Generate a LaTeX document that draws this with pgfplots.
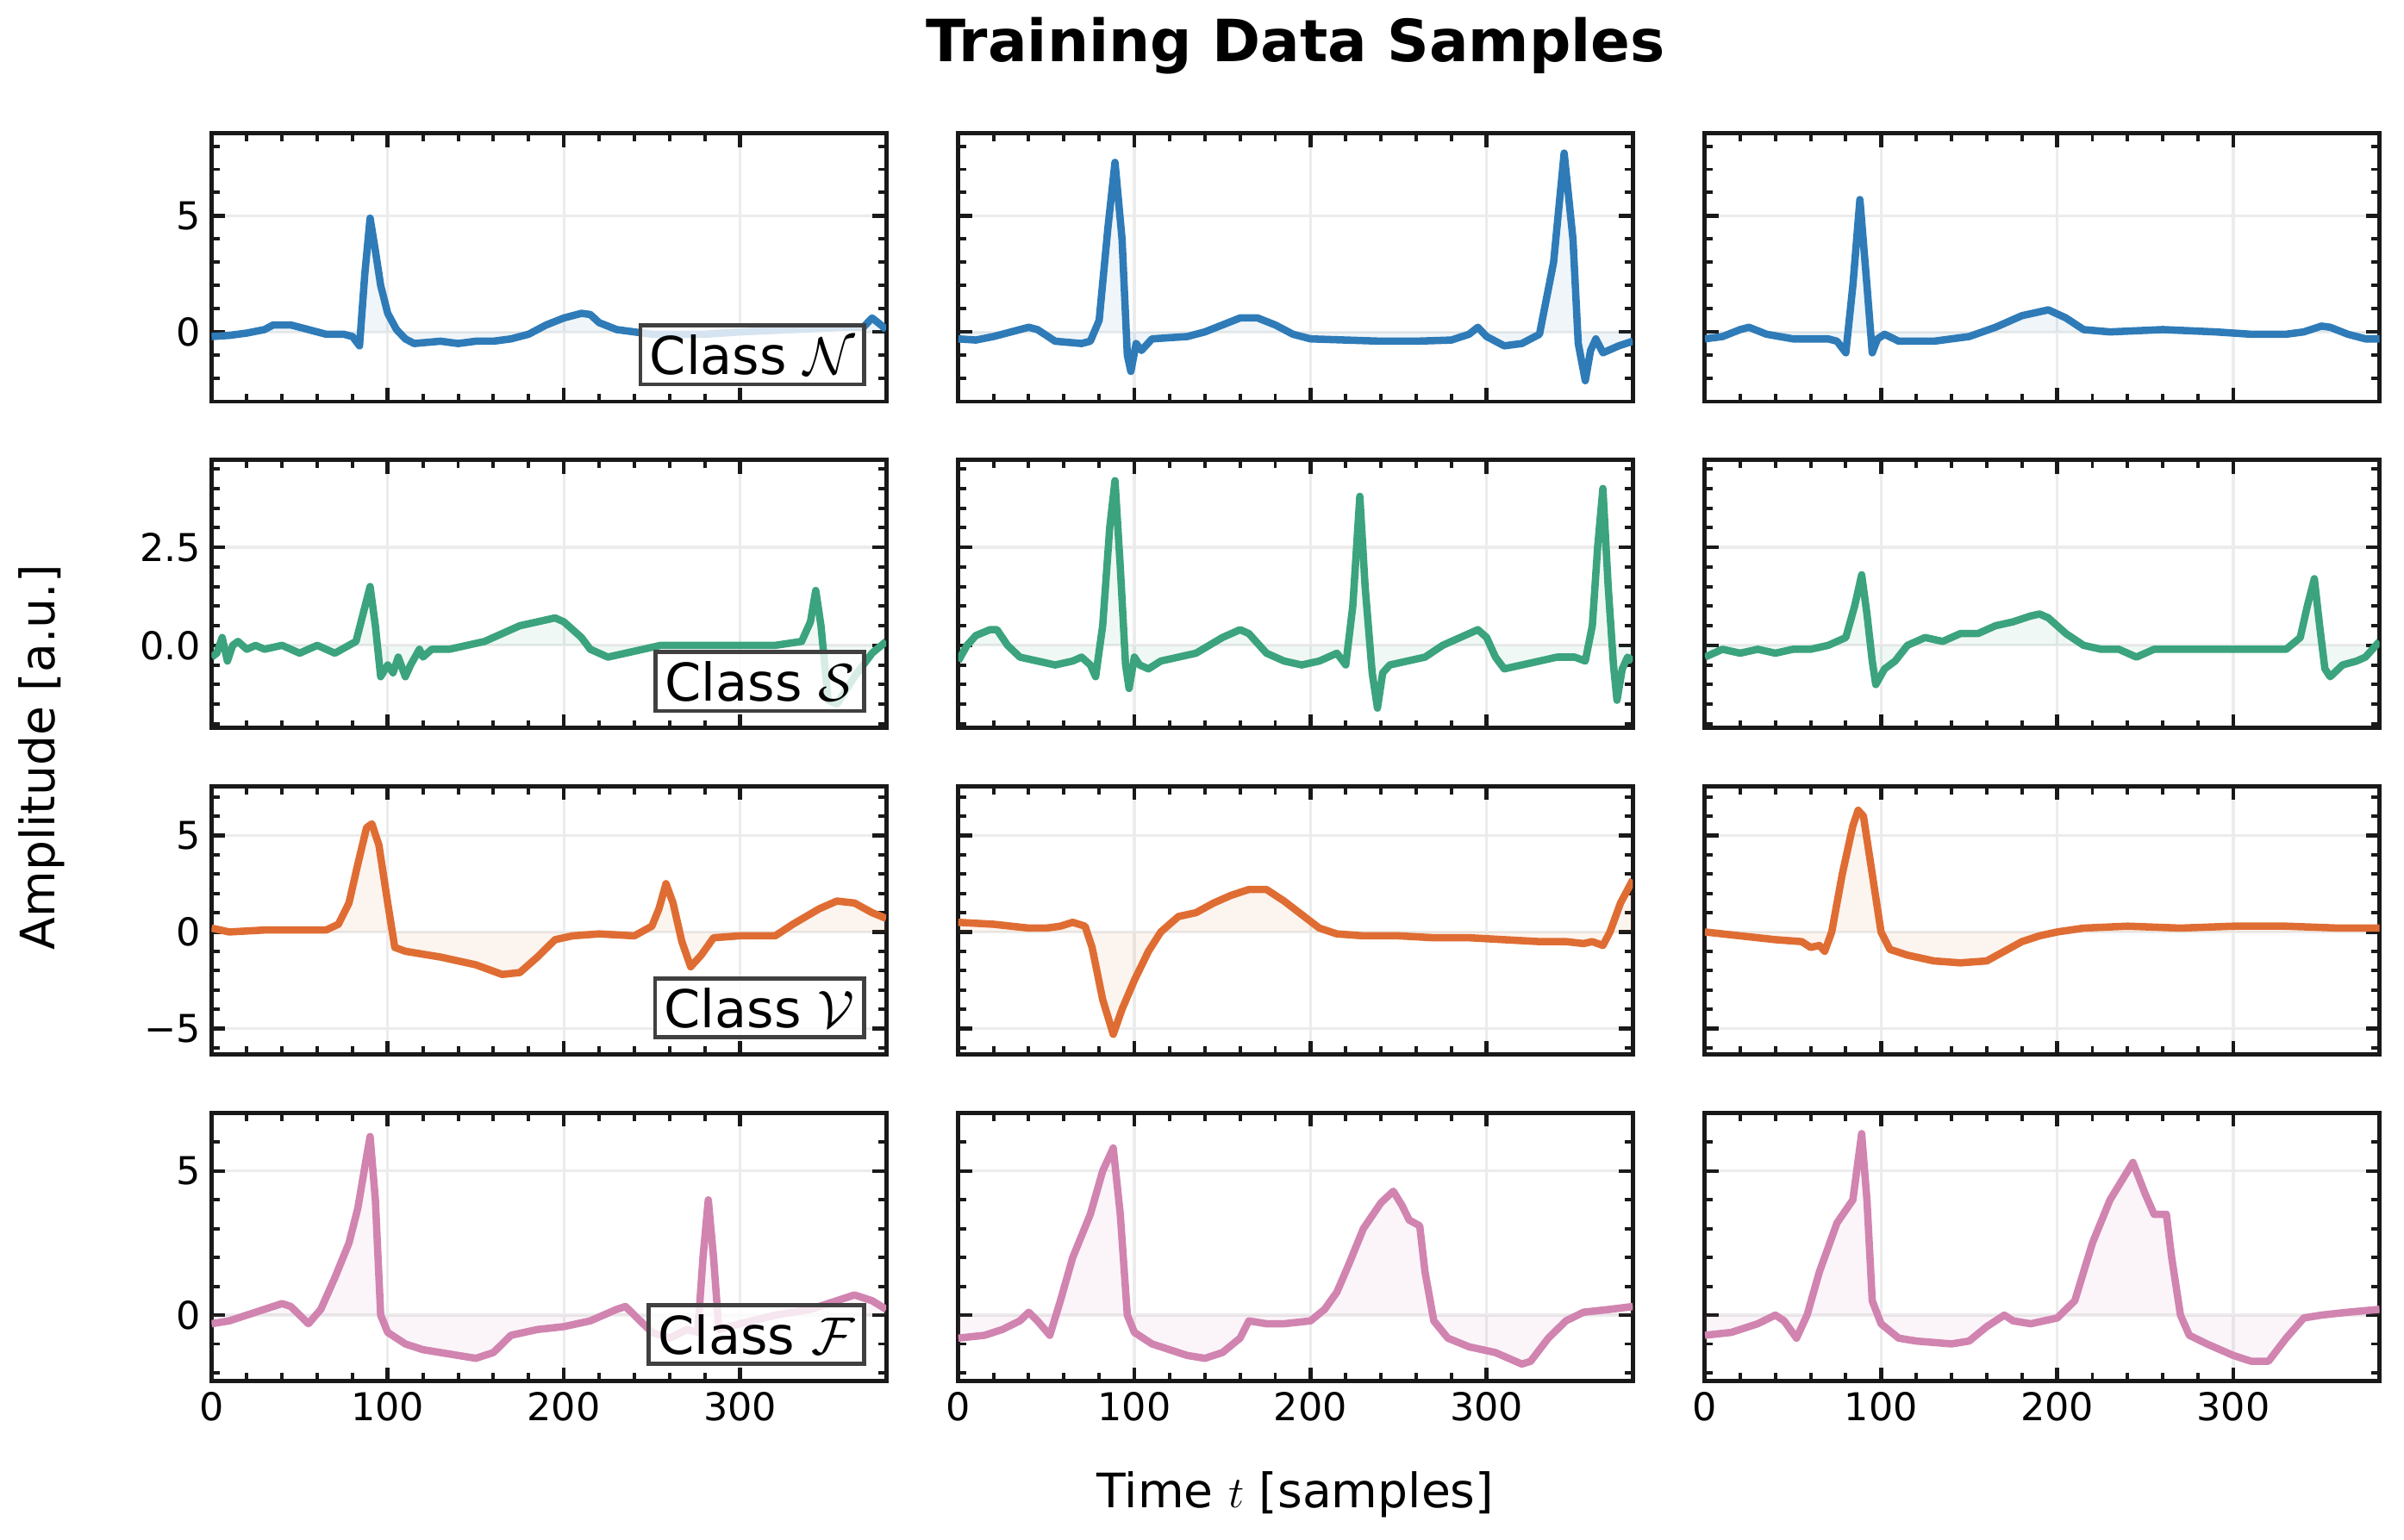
\documentclass[border=0pt]{standalone}
\usepackage{pgfplots}
\pgfplotsset{compat=1.18}
\usepgfplotslibrary{groupplots}
\usepackage{fontspec}
\setmainfont{DejaVu Sans}
\definecolor{cN}{HTML}{2E7BB8}
\definecolor{cS}{HTML}{3BA37D}
\definecolor{cV}{HTML}{DF6D33}
\definecolor{cF}{HTML}{D184B0}
\newcommand\panel[2]{%
  \addplot[fill=#1, fill opacity=0.08, draw=none] coordinates {#2} \closedcycle;
  \addplot[#1, line width=2.4pt, line join=round] coordinates {#2};}
\newcommand\cls[1]{\node[draw=black!75, line width=1.3pt, fill=white, fill opacity=0.8, text opacity=1, anchor=south east, font=\fontsize{17}{20}\selectfont, inner sep=3pt] at (rel axis cs:0.97,0.057) {Class $#1$};}
\begin{document}
\begin{tikzpicture}
\begin{groupplot}[
  group style={group size=3 by 4, horizontal sep=23.5pt, vertical sep=19pt,
    xticklabels at=edge bottom, yticklabels at=edge left},
  scale only axis, width=220pt, height=87.5pt,
  xmin=0, xmax=383, xtick={0,100,200,300}, minor x tick num=4,
  tick align=inside, ticks=both, xtick pos=both, ytick pos=both,
  major tick length=4.5pt, minor tick length=2.6pt,
  every tick/.style={line width=1.3pt, black!90},
  minor tick style={line width=1.1pt, black!90},
  axis line style={line width=1.4pt, black!90},
  grid=major, major grid style={line width=0.9pt, gray!15},
  tick label style={font=\fontsize{12.5}{14}\selectfont},
  /pgf/number format/assume math mode=true,
  clip=true,
]
% ---------- Row 1 ----------
\nextgroupplot[ymin=-3, ymax=8.55, ytick={0,5}, minor ytick={-3,...,8}]
\panel{cN}{(0,-0.2)(10,-0.15)(20,-0.05)(30,0.1)(35,0.3)(45,0.3)(55,0.1)(65,-0.1)(75,-0.1)(80,-0.2)(84,-0.6)(87,2.5)(90,4.9)(93,3.5)(96,2.0)(100,0.8)(105,0.1)(110,-0.3)(115,-0.5)(130,-0.4)(140,-0.5)(150,-0.4)(160,-0.4)(170,-0.3)(180,-0.1)(190,0.3)(200,0.6)(210,0.8)(215,0.75)(220,0.4)(230,0.1)(240,0.0)(250,-0.1)(260,-0.1)(280,-0.1)(300,0.0)(330,0.1)(360,0.2)(370,0.2)(375,0.6)(380,0.3)(383,0.1)}
\cls{\mathcal{N}}
\nextgroupplot[ymin=-3, ymax=8.55, ytick={0,5}, minor ytick={-3,...,8}]
\panel{cN}{(0,-0.3)(10,-0.35)(20,-0.2)(30,0.0)(40,0.2)(45,0.1)(55,-0.4)(70,-0.5)(75,-0.4)(80,0.5)(85,4.5)(89,7.3)(93,4.0)(96,-1.0)(98,-1.7)(101,-0.5)(104,-0.8)(110,-0.3)(130,-0.2)(140,0.0)(150,0.3)(160,0.6)(170,0.6)(180,0.3)(190,-0.1)(200,-0.3)(220,-0.35)(240,-0.4)(260,-0.4)(280,-0.35)(290,-0.1)(295,0.2)(300,-0.2)(310,-0.6)(320,-0.5)(330,-0.1)(338,3)(344,7.7)(349,4)(352,-0.5)(356,-2.1)(359,-0.8)(362,-0.3)(366,-0.9)(375,-0.6)(383,-0.4)}
\nextgroupplot[ymin=-3, ymax=8.55, ytick={0,5}, minor ytick={-3,...,8}]
\panel{cN}{(0,-0.3)(10,-0.2)(20,0.1)(25,0.2)(35,-0.1)(50,-0.3)(70,-0.3)(75,-0.4)(80,-0.9)(84,2)(88,5.7)(92,2)(95,-0.9)(98,-0.3)(102,-0.1)(110,-0.4)(130,-0.4)(150,-0.2)(165,0.2)(180,0.7)(195,0.95)(205,0.6)(215,0.1)(230,0.0)(260,0.1)(290,0.0)(310,-0.1)(330,-0.1)(340,0.0)(350,0.25)(355,0.2)(365,-0.1)(375,-0.3)(383,-0.3)}
% ---------- Row 2 ----------
\nextgroupplot[ymin=-2.11, ymax=4.73, ytick={0,2.5}, yticklabels={0.0,2.5}, minor ytick={-2,-1.5,...,4.5}]
\panel{cS}{(0,-0.3)(3,-0.2)(6,0.2)(9,-0.4)(12,0.0)(15,0.1)(20,-0.1)(25,0.0)(30,-0.1)(40,0.0)(50,-0.2)(60,0.0)(70,-0.2)(78,0.0)(82,0.1)(86,0.8)(90,1.5)(93,0.5)(96,-0.8)(100,-0.5)(103,-0.7)(106,-0.3)(110,-0.8)(113,-0.5)(118,-0.1)(120,-0.3)(125,-0.1)(135,-0.1)(145,0.0)(155,0.1)(165,0.3)(175,0.5)(185,0.6)(195,0.7)(200,0.6)(210,0.2)(215,-0.1)(225,-0.3)(235,-0.2)(245,-0.1)(255,0.0)(265,0.0)(280,0.0)(300,0.0)(320,0.0)(335,0.1)(340,0.6)(343,1.4)(346,0.5)(350,-1.4)(355,-1.5)(365,-0.8)(375,-0.2)(383,0.1)}
\cls{\mathcal{S}}
\nextgroupplot[ymin=-2.11, ymax=4.73, ytick={0,2.5}, yticklabels={}, minor ytick={-2,-1.5,...,4.5}]
\panel{cS}{(0,-0.4)(5,0.0)(10,0.25)(18,0.4)(22,0.4)(28,0.0)(35,-0.3)(45,-0.4)(55,-0.5)(65,-0.4)(70,-0.3)(75,-0.5)(78,-0.8)(82,0.5)(86,3)(89,4.2)(92,2)(95,-0.5)(97,-1.1)(100,-0.3)(103,-0.5)(108,-0.6)(115,-0.4)(125,-0.3)(135,-0.2)(150,0.2)(160,0.4)(165,0.3)(175,-0.2)(185,-0.4)(195,-0.5)(205,-0.4)(215,-0.2)(220,-0.5)(224,1)(228,3.8)(231,1.5)(235,-0.7)(238,-1.6)(241,-0.7)(245,-0.5)(255,-0.4)(265,-0.3)(275,0.0)(285,0.2)(295,0.4)(300,0.2)(305,-0.3)(310,-0.6)(320,-0.5)(330,-0.4)(340,-0.3)(350,-0.3)(356,-0.4)(360,0.5)(363,2.5)(366,4.0)(369,1.5)(372,-0.5)(374,-1.4)(377,-0.6)(380,-0.3)(383,-0.4)}
\nextgroupplot[ymin=-2.11, ymax=4.73, ytick={0,2.5}, yticklabels={}, minor ytick={-2,-1.5,...,4.5}]
\panel{cS}{(0,-0.3)(10,-0.1)(20,-0.2)(30,-0.1)(40,-0.2)(50,-0.1)(60,-0.1)(70,0.0)(80,0.2)(85,1.0)(89,1.8)(92,0.8)(95,-0.4)(97,-1.0)(102,-0.6)(108,-0.4)(115,0.0)(125,0.2)(135,0.1)(145,0.3)(155,0.3)(165,0.5)(175,0.6)(185,0.75)(190,0.8)(195,0.7)(205,0.3)(215,0.0)(225,-0.1)(235,-0.1)(245,-0.3)(255,-0.1)(270,-0.1)(290,-0.1)(310,-0.1)(330,-0.1)(338,0.2)(342,1.0)(346,1.7)(349,0.5)(352,-0.6)(355,-0.8)(362,-0.5)(370,-0.4)(375,-0.3)(383,0.1)}
% ---------- Row 3 ----------
\nextgroupplot[ymin=-6.35, ymax=7.54, ytick={-5,0,5}, yticklabels={−5,0,5}, minor ytick={-6,...,7}]
\panel{cV}{(0,0.2)(10,0.0)(30,0.1)(50,0.1)(65,0.1)(72,0.4)(78,1.5)(83,3.5)(88,5.4)(91,5.6)(95,4.5)(100,1.5)(104,-0.8)(110,-1.0)(130,-1.3)(150,-1.7)(165,-2.2)(175,-2.1)(185,-1.3)(195,-0.4)(205,-0.2)(220,-0.1)(240,-0.2)(250,0.3)(254,1.2)(258,2.5)(262,1.5)(267,-0.5)(272,-1.8)(278,-1.2)(285,-0.3)(300,-0.2)(320,-0.2)(330,0.4)(345,1.2)(355,1.6)(365,1.5)(375,1.0)(383,0.7)}
\cls{\mathcal{V}}
\nextgroupplot[ymin=-6.35, ymax=7.54, ytick={-5,0,5}, yticklabels={}, minor ytick={-6,...,7}]
\panel{cV}{(0,0.5)(20,0.4)(40,0.2)(50,0.2)(58,0.3)(65,0.5)(72,0.3)(76,-0.8)(82,-3.5)(88,-5.3)(93,-4.0)(100,-2.5)(108,-1.0)(115,0.0)(125,0.8)(135,1.0)(145,1.5)(155,1.9)(165,2.2)(175,2.2)(185,1.6)(195,0.9)(205,0.2)(215,-0.1)(230,-0.2)(250,-0.2)(270,-0.3)(290,-0.3)(310,-0.4)(330,-0.5)(345,-0.5)(355,-0.6)(360,-0.5)(366,-0.7)(370,0.0)(376,1.5)(383,2.7)}
\nextgroupplot[ymin=-6.35, ymax=7.54, ytick={-5,0,5}, yticklabels={}, minor ytick={-6,...,7}]
\panel{cV}{(0,0.0)(20,-0.2)(40,-0.4)(55,-0.5)(60,-0.8)(65,-0.7)(68,-1.0)(72,0.0)(78,3.0)(84,5.5)(87,6.3)(90,6.0)(95,3)(100,0.0)(105,-0.9)(115,-1.2)(130,-1.5)(145,-1.6)(160,-1.5)(170,-1.0)(180,-0.5)(190,-0.2)(200,0.0)(215,0.2)(240,0.3)(270,0.2)(300,0.3)(330,0.3)(360,0.2)(383,0.2)}
% ---------- Row 4 ----------
\nextgroupplot[ymin=-2.29, ymax=7.02, ytick={0,5}, minor ytick={-2,...,7}]
\panel{cF}{(0,-0.3)(10,-0.2)(20,0.0)(30,0.2)(40,0.4)(45,0.3)(50,0.0)(55,-0.3)(62,0.2)(70,1.3)(78,2.5)(83,3.7)(88,5.5)(90,6.2)(93,4)(96,0.0)(100,-0.6)(110,-1.0)(120,-1.2)(140,-1.4)(150,-1.5)(160,-1.3)(170,-0.7)(185,-0.5)(200,-0.4)(215,-0.2)(230,0.2)(235,0.3)(240,0.0)(250,-0.6)(260,-0.8)(270,-0.5)(276,-0.6)(279,2.0)(282,4.0)(285,2)(288,-0.5)(300,-0.3)(320,0.0)(340,0.2)(355,0.5)(365,0.7)(375,0.5)(383,0.2)}
\cls{\mathcal{F}}
\nextgroupplot[ymin=-2.29, ymax=7.02, ytick={0,5}, minor ytick={-2,...,7}]
\panel{cF}{(0,-0.8)(15,-0.7)(25,-0.5)(35,-0.2)(40,0.1)(45,-0.2)(52,-0.7)(58,0.5)(65,2.0)(75,3.5)(82,5.0)(88,5.8)(92,3.5)(96,0.0)(100,-0.6)(110,-1.0)(120,-1.2)(130,-1.4)(140,-1.5)(150,-1.3)(160,-0.8)(165,-0.2)(175,-0.3)(185,-0.3)(200,-0.2)(208,0.2)(215,0.8)(222,1.8)(230,3.0)(240,3.9)(247,4.3)(252,3.8)(256,3.3)(262,3.1)(265,1.5)(270,-0.2)(278,-0.8)(290,-1.1)(305,-1.3)(320,-1.7)(325,-1.6)(335,-0.8)(345,-0.2)(355,0.1)(370,0.2)(383,0.3)}
\nextgroupplot[ymin=-2.29, ymax=7.02, ytick={0,5}, minor ytick={-2,...,7}]
\panel{cF}{(0,-0.7)(15,-0.6)(30,-0.3)(40,0.0)(45,-0.2)(52,-0.8)(58,0.0)(65,1.5)(75,3.2)(84,4.0)(89,6.3)(92,4.0)(95,0.5)(100,-0.3)(110,-0.8)(120,-0.9)(140,-1.0)(150,-0.9)(160,-0.4)(170,0.0)(175,-0.2)(185,-0.3)(200,-0.1)(210,0.5)(220,2.5)(230,4.0)(243,5.3)(250,4.2)(255,3.5)(262,3.5)(265,2)(270,0.0)(275,-0.7)(285,-1.0)(300,-1.4)(310,-1.6)(320,-1.6)(330,-0.8)(340,-0.1)(350,0.0)(365,0.1)(383,0.2)}
\end{groupplot}
\node[font=\bfseries\fontsize{19}{22}\selectfont] at ([yshift=28.5pt]group c2r1.north) {Training Data Samples};
\node[font=\fontsize{15.5}{18}\selectfont] at ([yshift=-37pt]group c2r4.south) {Time $t$ [samples]};
\path (group c1r1.north west) -- coordinate[midway] (ymid) (group c1r4.south west);
\node[font=\fontsize{15.5}{18}\selectfont, rotate=90] at ([xshift=-55.5pt]ymid) {Amplitude [a.u.]};
\path[use as bounding box] ([shift={(-69pt,43.5pt)}]group c1r1.north west) rectangle ([shift={(-69pt,-458.75pt)}]group c1r1.north west) -- ++(784pt,0);
\end{tikzpicture}
\end{document}
